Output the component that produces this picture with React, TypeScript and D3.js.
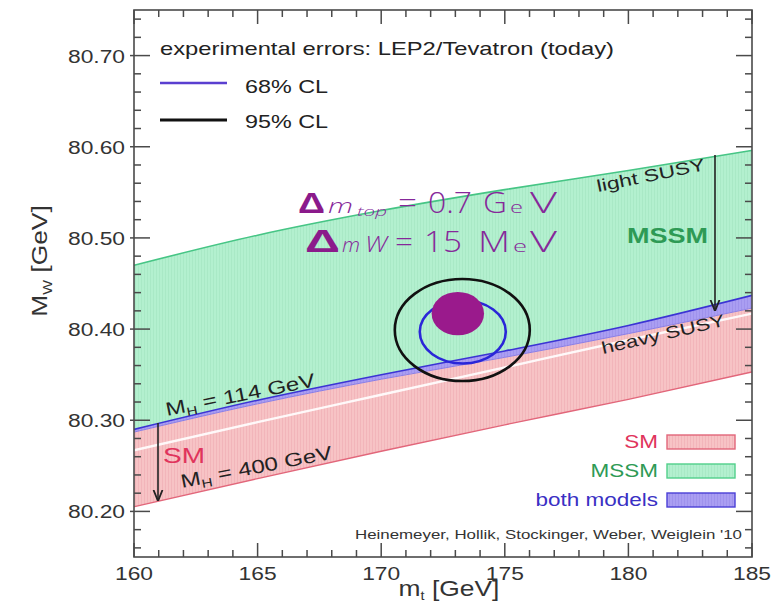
import React from 'react';
import * as d3 from 'd3';

const W = 772;
const H = 613;

// axes
const mtDomain: [number, number] = [160, 185];
const mwDomain: [number, number] = [80.15, 80.75];
const mtTickLabels = ['160', '165', '170', '175', '180', '185'];
const mwTickLabels = ['80.20', '80.30', '80.40', '80.50', '80.60', '80.70'];

// band boundaries sampled at these top-quark masses [GeV]
const mtSamples = [160, 165, 170, 175, 180, 185];
const mssmUpper = [80.47, 80.503, 80.53, 80.553, 80.574, 80.596];
const bothUpper = [80.29, 80.322, 80.35, 80.376, 80.404, 80.437];
const bothLower = [80.287, 80.318, 80.345, 80.369, 80.395, 80.423];
const smLower = [80.205, 80.236, 80.266, 80.295, 80.323, 80.353];
const smInnerLine = [80.267, 80.298, 80.328, 80.358, 80.388, 80.417];

// measurement contours: [centre mt, centre MW, half-width mt, half-height MW]
const cl95 = [173.28, 80.399, 2.73, 0.056];
const cl68 = [173.3, 80.397, 1.74, 0.0347];
const futureSpot = [173.1, 80.417, 1.06, 0.0238];

const legendNames = ['SM', 'MSSM', 'both models'];
const legendStrokes = ['#e2667a', '#52cf8a', '#4a3fd6'];
const legendText = ['#e0345c', '#2e9a55', '#3a30c4'];

const SANS = '"Liberation Sans", Arial, Helvetica, sans-serif';

const M = { left: 134, right: 752, top: 10, bottom: 557 };

function SText(props: any) {
  const { x, y, sx = 1.2, rotate = 0, anchor = 'start', size, children, ...rest } = props;
  return (
    <text
      transform={`translate(${x},${y}) rotate(${rotate}) scale(${sx},1)`}
      textAnchor={anchor}
      fontSize={size}
      fontFamily={SANS}
      {...rest}
    >
      {children}
    </text>
  );
}

export default function App() {
  const x = d3.scaleLinear().domain(mtDomain).range([M.left, M.right]);
  const y = d3.scaleLinear().domain(mwDomain).range([M.bottom, M.top]);

  const rows = mtSamples.map((mt, i) => ({
    mt,
    mssmUp: mssmUpper[i],
    bothUp: bothUpper[i],
    bothLo: bothLower[i],
    smLo: smLower[i],
    inner: smInnerLine[i],
  }));
  type Row = (typeof rows)[number];

  const band = (top: (r: Row) => number, bot: (r: Row) => number) =>
    d3
      .area<Row>()
      .x((r) => x(r.mt))
      .y0((r) => y(bot(r)))
      .y1((r) => y(top(r)))
      .curve(d3.curveMonotoneX)(rows) as string;
  const edge = (f: (r: Row) => number) =>
    d3
      .line<Row>()
      .x((r) => x(r.mt))
      .y((r) => y(f(r)))
      .curve(d3.curveMonotoneX)(rows) as string;

  const xMajor = x.ticks(5);
  const xMinor = x.ticks(25).filter((v) => !xMajor.includes(v));
  const yAll = y.ticks(30);
  const isMajorY = (v: number) => Math.abs(v * 10 - Math.round(v * 10)) < 1e-6;
  const yMajor = yAll.filter(isMajorY);
  const yMinor = yAll.filter((v) => !isMajorY(v));

  const ell = (e: number[]) => ({
    cx: x(e[0]),
    cy: y(e[1]),
    rx: x(e[0] + e[2]) - x(e[0]),
    ry: y(e[1]) - y(e[1] + e[3]),
  });

  const axisColor = '#4a4a4a';
  const majorLen = 14;
  const minorLen = 7;

  return (
    <svg
      width={W}
      height={H}
      viewBox={`0 0 ${W} ${H}`}
      style={{ position: 'absolute', left: 0, top: 0, display: 'block', background: '#fff' }}
    >
      <defs>
        <pattern id="hGreen" width="3" height="10" patternUnits="userSpaceOnUse">
          <rect width="3" height="10" fill="#b3f0cf" />
          <rect x="0" width="1" height="10" fill="#a9e9c6" />
        </pattern>
        <pattern id="hPink" width="3" height="10" patternUnits="userSpaceOnUse">
          <rect width="3" height="10" fill="#f7c3c5" />
          <rect x="0" width="1" height="10" fill="#f2b5ba" />
        </pattern>
        <pattern id="hBlue" width="3" height="10" patternUnits="userSpaceOnUse">
          <rect width="3" height="10" fill="#aa9ef2" />
          <rect x="0" width="1" height="10" fill="#9f92ec" />
        </pattern>
        <marker id="arrowHead" viewBox="0 0 10 10" refX="9" refY="5" markerWidth="7" markerHeight="8" orient="auto">
          <path d="M0,1 L10,5 L0,9" fill="none" stroke="#222" strokeWidth="1.6" />
        </marker>
        <clipPath id="plotClip">
          <rect x={M.left} y={M.top} width={M.right - M.left} height={M.bottom - M.top} />
        </clipPath>
      </defs>

      <g clipPath="url(#plotClip)">
        {/* model bands */}
        <path d={band((r) => r.mssmUp, (r) => r.bothUp)} fill="url(#hGreen)" />
        <path d={band((r) => r.bothUp, (r) => r.bothLo)} fill="url(#hBlue)" />
        <path d={band((r) => r.bothLo, (r) => r.smLo)} fill="url(#hPink)" />
        <path d={edge((r) => r.mssmUp)} fill="none" stroke="#46c585" strokeWidth={1.6} />
        <path d={edge((r) => r.bothUp)} fill="none" stroke="#3b34d4" strokeWidth={1.6} />
        <path d={edge((r) => r.bothLo)} fill="none" stroke="#8a7ee6" strokeWidth={1} />
        <path d={edge((r) => r.smLo)} fill="none" stroke="#e2667a" strokeWidth={1.3} />
        <path d={edge((r) => r.inner)} fill="none" stroke="#ffffff" strokeWidth={2.4} opacity={0.9} />

        {/* measurement contours */}
        <ellipse {...ell(cl95)} fill="none" stroke="#111" strokeWidth={2.6} />
        <ellipse {...ell(cl68)} fill="none" stroke="#2a26d8" strokeWidth={2.6} />
        <ellipse {...ell(futureSpot)} fill="#9a1a8c" />
      </g>

      {/* frame */}
      <rect
        x={M.left}
        y={M.top}
        width={M.right - M.left}
        height={M.bottom - M.top}
        fill="none"
        stroke={axisColor}
        strokeWidth={1.6}
      />
      {/* ticks on all four sides, pointing inward */}
      <g stroke={axisColor} strokeWidth={1.5}>
        {xMajor.map((v) => (
          <g key={'xM' + v}>
            <line x1={x(v)} x2={x(v)} y1={M.bottom} y2={M.bottom - majorLen} />
            <line x1={x(v)} x2={x(v)} y1={M.top} y2={M.top + majorLen} />
          </g>
        ))}
        {xMinor.map((v) => (
          <g key={'xm' + v}>
            <line x1={x(v)} x2={x(v)} y1={M.bottom} y2={M.bottom - minorLen} />
            <line x1={x(v)} x2={x(v)} y1={M.top} y2={M.top + minorLen} />
          </g>
        ))}
        {yMajor.map((v) => (
          <g key={'yM' + v}>
            <line x1={M.left - 4} x2={M.left + majorLen + 2} y1={y(v)} y2={y(v)} />
            <line x1={M.right} x2={M.right - majorLen - 2} y1={y(v)} y2={y(v)} />
          </g>
        ))}
        {yMinor.map((v) => (
          <g key={'ym' + v}>
            <line x1={M.left} x2={M.left + minorLen} y1={y(v)} y2={y(v)} />
            <line x1={M.right} x2={M.right - minorLen} y1={y(v)} y2={y(v)} />
          </g>
        ))}
      </g>

      {/* tick labels */}
      {xMajor.map((v, i) => (
        <SText key={'xl' + v} x={x(v)} y={580} anchor="middle" size={19} fill="#333">
          {mtTickLabels[i]}
        </SText>
      ))}
      {yMajor.map((v, i) => (
        <SText key={'yl' + v} x={125} y={y(v) + 7} anchor="end" size={19} fill="#333">
          {mwTickLabels[i]}
        </SText>
      ))}

      {/* axis titles */}
      <SText x={449} y={596} anchor="middle" size={22} fill="#333">
        m<tspan fontSize={12} dy={4}>t</tspan>
        <tspan dy={-4}> [GeV]</tspan>
      </SText>
      <g transform="translate(47,261) rotate(-90)">
        <SText x={0} y={0} anchor="middle" size={22} fill="#333">
          M<tspan fontSize={13} dy={5}>W</tspan>
          <tspan dy={-5}> [GeV]</tspan>
        </SText>
      </g>

      {/* experimental error legend */}
      <SText x={160} y={55} size={19} sx={1} fill="#222" textLength={454} lengthAdjust="spacingAndGlyphs">
        experimental errors: LEP2/Tevatron (today)
      </SText>
      <line x1={160} x2={227} y1={83} y2={83} stroke="#5a3fd0" strokeWidth={2.6} />
      <SText x={245} y={93} size={19} sx={1} fill="#222" textLength={83} lengthAdjust="spacingAndGlyphs">
        68% CL
      </SText>
      <line x1={160} x2={227} y1={120} y2={120} stroke="#111" strokeWidth={3} />
      <SText x={245} y={128} size={19} sx={1} fill="#222" textLength={83} lengthAdjust="spacingAndGlyphs">
        95% CL
      </SText>

      {/* anticipated precision */}
      <g fill="#86289a" fontFamily='"Open Sans", "Liberation Sans", sans-serif'>
        <text x={298} y={213} fontSize={29} fontWeight={700} fill="#8b1a8b" textLength={27} lengthAdjust="spacingAndGlyphs" fontFamily={SANS}>Δ</text>
        <text x={328} y={213} fontSize={21} fontStyle="italic" fontWeight={300} textLength={25} lengthAdjust="spacingAndGlyphs">m</text>
        <text x={357} y={216} fontSize={13} fontStyle="italic" fontWeight={300} textLength={30} lengthAdjust="spacingAndGlyphs">top</text>
        <text x={398} y={213} fontSize={29} fontWeight={300} textLength={19} lengthAdjust="spacingAndGlyphs">=</text>
        <text x={428} y={213} fontSize={29} fontWeight={300} textLength={44} lengthAdjust="spacingAndGlyphs">0.7</text>
        <text x={483} y={213} fontSize={29} fontWeight={300} textLength={24} lengthAdjust="spacingAndGlyphs">G</text>
        <text x={510} y={213} fontSize={17} fontWeight={300} textLength={13} lengthAdjust="spacingAndGlyphs">e</text>
        <text x={530} y={213} fontSize={29} fontWeight={300} textLength={27} lengthAdjust="spacingAndGlyphs">V</text>

        <text x={305} y={252} fontSize={31} fontWeight={700} fill="#8b1a8b" textLength={35} lengthAdjust="spacingAndGlyphs" fontFamily={SANS}>Δ</text>
        <text x={342} y={252} fontSize={21} fontStyle="italic" fontWeight={300} textLength={18} lengthAdjust="spacingAndGlyphs">m</text>
        <text x={365} y={252} fontSize={22} fontStyle="italic" fontWeight={300} textLength={22} lengthAdjust="spacingAndGlyphs">W</text>
        <text x={395} y={252} fontSize={29} fontWeight={300} textLength={18} lengthAdjust="spacingAndGlyphs">=</text>
        <text x={424} y={252} fontSize={29} fontWeight={300} textLength={38} lengthAdjust="spacingAndGlyphs">15</text>
        <text x={478} y={252} fontSize={29} fontWeight={300} textLength={32} lengthAdjust="spacingAndGlyphs">M</text>
        <text x={513} y={252} fontSize={17} fontWeight={300} textLength={14} lengthAdjust="spacingAndGlyphs">e</text>
        <text x={530} y={252} fontSize={29} fontWeight={300} textLength={27} lengthAdjust="spacingAndGlyphs">V</text>
      </g>

      {/* band annotations */}
      <SText x={598} y={192} rotate={-11.5} size={17} sx={1} fill="#222" textLength={110} lengthAdjust="spacingAndGlyphs">
        light SUSY
      </SText>
      <line x1={715} x2={715} y1={155} y2={310} stroke="#222" strokeWidth={1.6} markerEnd="url(#arrowHead)" />
      <SText x={627} y={243} size={22} sx={1} fill="#2e9a55" fontWeight={700} textLength={81} lengthAdjust="spacingAndGlyphs">
        MSSM
      </SText>
      <SText x={603} y={354} rotate={-13} size={17} sx={1} fill="#222" textLength={126} lengthAdjust="spacingAndGlyphs">
        heavy SUSY
      </SText>

      <SText x={167} y={416} rotate={-11.3} size={19} sx={1.27} fill="#222">
        M<tspan fontSize={12} dy={4}>H</tspan>
        <tspan dy={-4}> = 114 GeV</tspan>
      </SText>
      <SText x={182} y={488} rotate={-11} size={19} sx={1.27} fill="#222">
        M<tspan fontSize={12} dy={4}>H</tspan>
        <tspan dy={-4}> = 400 GeV</tspan>
      </SText>
      <SText x={163} y={463} size={22} sx={1} fill="#e0345c" textLength={42} lengthAdjust="spacingAndGlyphs">
        SM
      </SText>
      <line x1={158} x2={158} y1={423} y2={500} stroke="#222" strokeWidth={1.6} markerEnd="url(#arrowHead)" />

      {/* model legend */}
      {legendNames.map((name, i) => {
        const boxTop = [435, 464, 493][i];
        return (
          <g key={name}>
            <SText x={658} y={boxTop + 13} anchor="end" size={18} sx={1.25} fill={legendText[i]}>
              {name}
            </SText>
            <rect
              x={667}
              y={boxTop}
              width={68}
              height={14}
              fill={['url(#hPink)', 'url(#hGreen)', 'url(#hBlue)'][i]}
              stroke={legendStrokes[i]}
              strokeWidth={1.4}
            />
          </g>
        );
      })}

      <SText x={355} y={539} size={13} sx={1} fill="#333" textLength={387} lengthAdjust="spacingAndGlyphs">
        Heinemeyer, Hollik, Stockinger, Weber, Weiglein '10
      </SText>
    </svg>
  );
}
